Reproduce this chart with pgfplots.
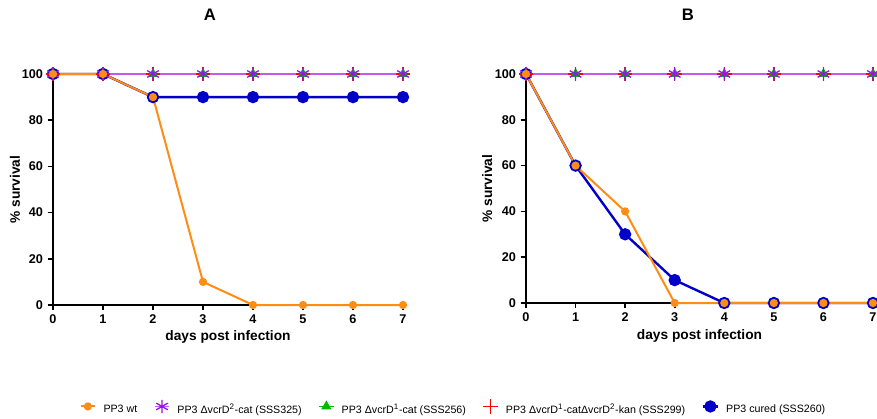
\documentclass[border=0pt]{standalone}
\usepackage{fontspec}
\setmainfont{Liberation Sans}
\usepackage{pgfplots}
\usepackage{pgfplotstable}
\pgfplotsset{compat=1.18}

\definecolor{wtorange}{RGB}{255,140,20}
\definecolor{cblue}{RGB}{0,0,200}
\definecolor{cgreen}{RGB}{0,185,0}
\definecolor{cred}{RGB}{255,0,0}
\definecolor{cpurpleline}{RGB}{195,90,235}
\definecolor{cpurple}{RGB}{150,20,235}

\pgfplotstableread{
day wt d2 d1 d12 cured
0 100 100 100 100 100
1 100 100 100 100 100
2 90 100 100 100 90
3 10 100 100 100 90
4 0 100 100 100 90
5 0 100 100 100 90
6 0 100 100 100 90
7 0 100 100 100 90
}\tabA

\pgfplotstableread{
day wt d2 d1 d12 cured
0 100 100 100 100 100
1 60 100 100 100 60
2 40 100 100 100 30
3 0 100 100 100 10
4 0 100 100 100 0
5 0 100 100 100 0
6 0 100 100 100 0
7 0 100 100 100 0
}\tabB

\pgfplotsset{
  survival/.style={
    scale only axis, clip=false, anchor=south west,
    xmin=0, xmax=7, ymin=0, ymax=100,
    axis lines=left,
    axis line style={-, line width=1.2pt, black},
    xtick={0,...,7}, ytick={0,20,...,100},
    tick align=outside, major tick length=4pt,
    tick style={line width=1.2pt, black},
    ticklabel style={font=\bfseries\fontsize{9.5}{11}\selectfont},
    /pgf/number format/assume math mode=true,
    label style={font=\bfseries\fontsize{10.3}{12}\selectfont},
    xlabel={days post infection},
    ylabel={\% survival},
    legend image code/.code={\draw[mark repeat=2,mark phase=2] plot coordinates {(0pt,2.6pt) (5.5pt,2.6pt) (11pt,2.6pt)};},
  },
  swt/.style={color=wtorange, line width=1.5pt, mark=*, mark size=2.3pt},
  scured/.style={color=cblue, line width=1.8pt, mark=*, mark size=3.7pt},
  sdd/.style={color=cred, line width=1pt, mark=+, mark size=5.5pt, mark options={line width=1pt}},
  sd1/.style={color=cgreen, line width=1pt, mark=triangle*, mark size=3.5pt},
  sd2/.style={color=cpurpleline, line width=1.1pt, mark=asterisk, mark size=5pt, mark options={color=cpurple, line width=1pt}},
}

\begin{document}
\begin{tikzpicture}
\useasboundingbox (0,0) rectangle (657.75pt,313.5pt);

\begin{axis}[survival,
  at={(39.75pt,84.75pt)}, width=262.5pt, height=173.25pt,
  xlabel style={at={(axis description cs:0.5,-0.1385)}, anchor=center},
  ylabel style={at={(axis description cs:-0.1086,0.5)}, anchor=center},
  legend columns=5,
  legend style={at={(axis description cs:1.143,-0.446)}, anchor=center,
    draw=none, fill=none, font=\fontsize{8}{9.6}\selectfont,
    nodes={inner sep=1pt},
    /tikz/every odd column/.append style={column sep=4.5pt},
    /tikz/every even column/.append style={column sep=11.5pt}},
]
\addlegendimage{swt}
\addlegendentry{PP3 wt}
\addlegendimage{sd2}
\addlegendentry{PP3 ΔvcrD\textsuperscript{2}-cat (SSS325)}
\addlegendimage{sd1}
\addlegendentry{PP3 ΔvcrD\textsuperscript{1}-cat (SSS256)}
\addlegendimage{sdd}
\addlegendentry{PP3 ΔvcrD\textsuperscript{1}-catΔvcrD\textsuperscript{2}-kan (SSS299)}
\addlegendimage{scured}
\addlegendentry{PP3 cured (SSS260)}

\addplot[scured, forget plot] table[x=day,y=cured] {\tabA};
\addplot[sdd, forget plot] table[x=day,y=d12] {\tabA};
\addplot[sd1, forget plot] table[x=day,y=d1] {\tabA};
\addplot[sd2, forget plot] table[x=day,y=d2] {\tabA};
\addplot[swt, forget plot] table[x=day,y=wt] {\tabA};
\end{axis}

\begin{axis}[survival,
  at={(394.5pt,86.25pt)}, width=260.25pt, height=171.75pt,
  xlabel style={at={(axis description cs:0.5,-0.144)}, anchor=center},
  ylabel style={at={(axis description cs:-0.112,0.5)}, anchor=center},
]
\addplot[scured] table[x=day,y=cured] {\tabB};
\addplot[sdd] table[x=day,y=d12] {\tabB};
\addplot[sd1] table[x=day,y=d1] {\tabB};
\addplot[sd2] table[x=day,y=d2] {\tabB};
\addplot[swt] table[x=day,y=wt] {\tabB};
\end{axis}

\node[font=\bfseries\fontsize{12.5}{14}\selectfont] at (157.5pt,302.25pt) {A};
\node[font=\bfseries\fontsize{12.5}{14}\selectfont] at (516pt,302.25pt) {B};
\end{tikzpicture}
\end{document}
